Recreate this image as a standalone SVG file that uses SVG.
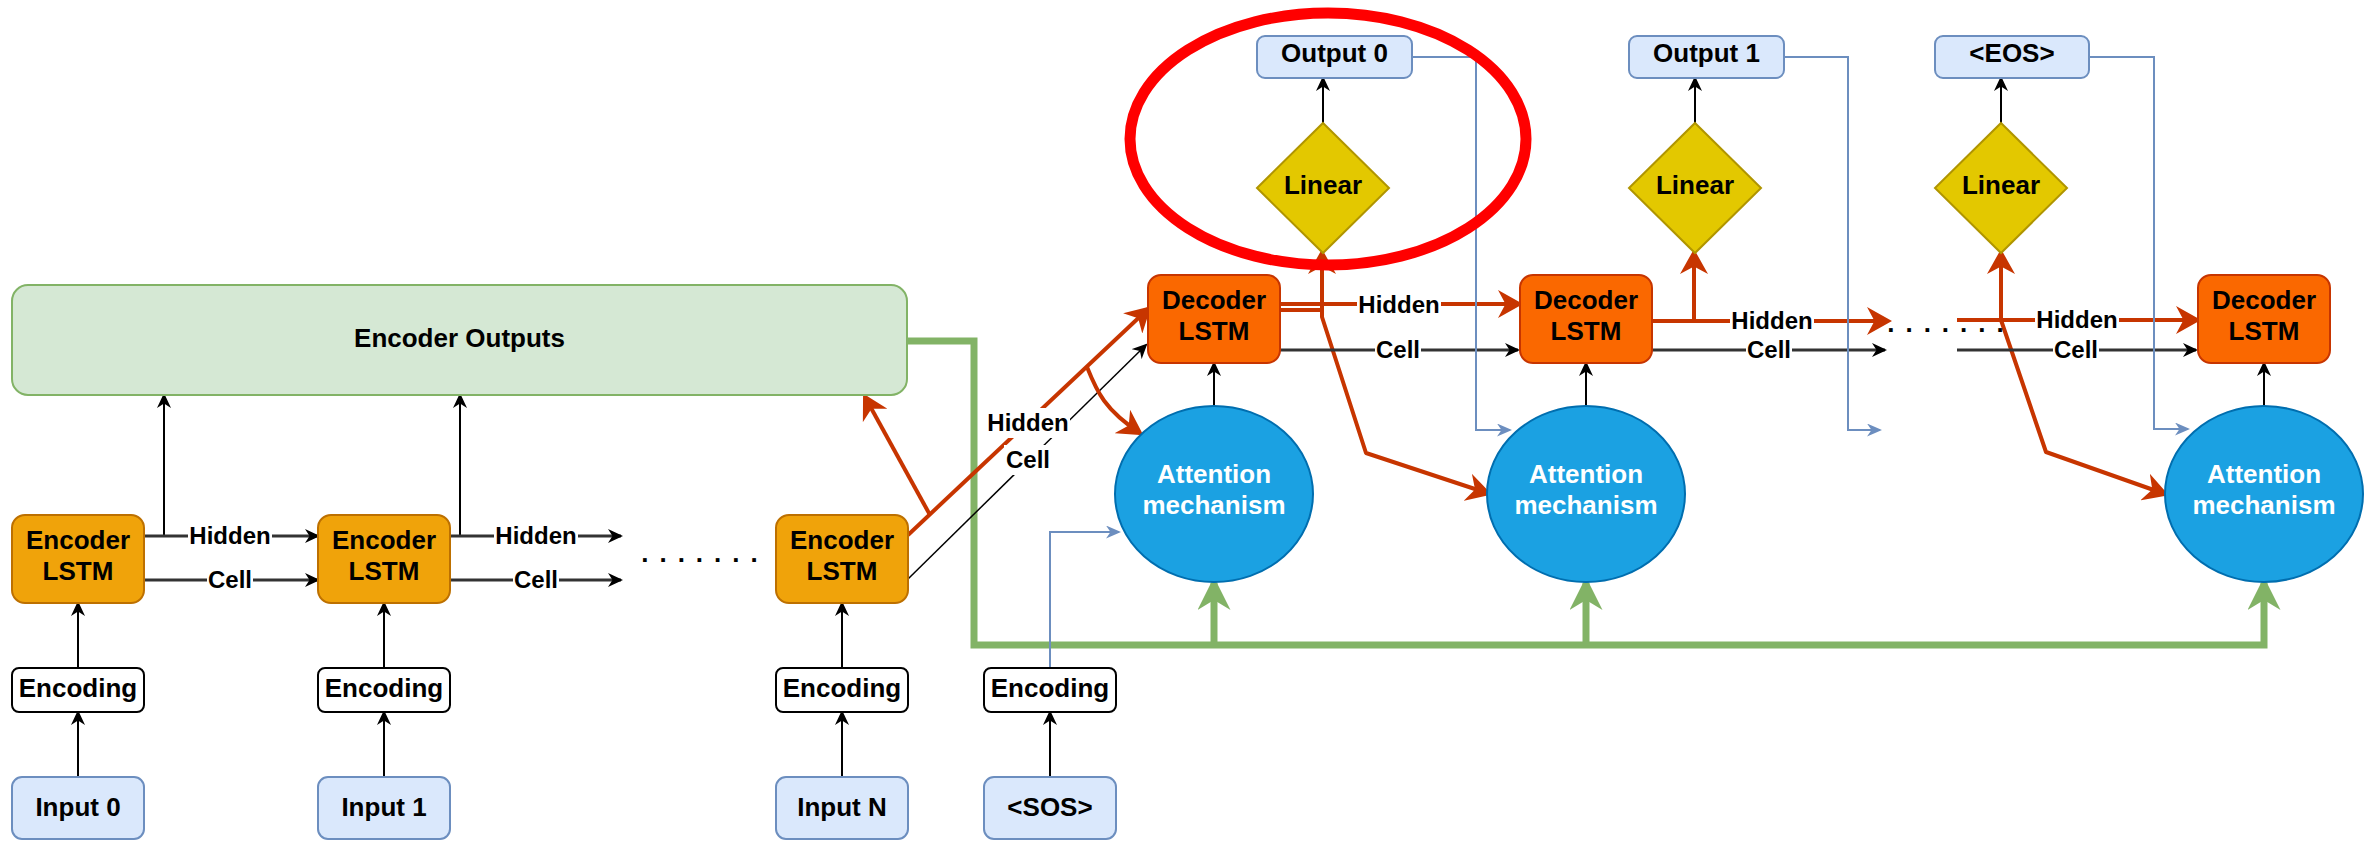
<svg xmlns="http://www.w3.org/2000/svg" width="2377" height="841" viewBox="0 0 2377 841">
<style>
text{font-family:"Liberation Sans",Arial,Helvetica,sans-serif;font-weight:bold;font-size:26px;text-anchor:middle;fill:#000}
.lbl{font-size:24px}
.wt{fill:#fff}
.enc{fill:#f0a30a;stroke:#BD7000;stroke-width:2}
.dec{fill:#fa6800;stroke:#C73500;stroke-width:2}
.att{fill:#1ba1e2;stroke:#006EAF;stroke-width:2}
.lin{fill:#e3c800;stroke:#B09500;stroke-width:2}
.io{fill:#dae8fc;stroke:#6c8ebf;stroke-width:2}
.emb{fill:#fff;stroke:#000;stroke-width:2}
.out{fill:#d5e8d4;stroke:#82b366;stroke-width:2}
.k{fill:none;stroke:#000;stroke-width:2;marker-end:url(#ak)}
.hc{fill:none;stroke:#333;stroke-width:3;marker-end:url(#ak)}
.r{fill:none;stroke:#C73500;stroke-width:4;stroke-linejoin:round;marker-end:url(#ar)}
.g{fill:none;stroke:#82b366;stroke-width:7;marker-end:url(#ag)}
.b{fill:none;stroke:#6c8ebf;stroke-width:2;marker-end:url(#ab)}
.bg{fill:#fff}
</style>
<defs>
<marker id="ak" markerUnits="userSpaceOnUse" viewBox="0 0 15 14" markerWidth="15" markerHeight="14" refX="13" refY="7" orient="auto"><path d="M0,0 L15,7 L0,14 L4.5,7 Z" fill="#000"/></marker>
<marker id="ar" markerUnits="userSpaceOnUse" viewBox="0 0 25 28" markerWidth="25" markerHeight="28" refX="21" refY="14" orient="auto"><path d="M0,0 L25,14 L0,28 L7.5,14 Z" fill="#C73500"/></marker>
<marker id="ag" markerUnits="userSpaceOnUse" viewBox="0 0 33 33" markerWidth="33" markerHeight="33" refX="27" refY="16.5" orient="auto"><path d="M0,0 L33,16.5 L0,33 L10,16.5 Z" fill="#82b366"/></marker>
<marker id="ab" markerUnits="userSpaceOnUse" viewBox="0 0 15 13" markerWidth="15" markerHeight="13" refX="13" refY="6.5" orient="auto"><path d="M0,0 L15,6.5 L0,13 L4.5,6.5 Z" fill="#6c8ebf"/></marker>
</defs>

<g id="connectors">
<!-- green encoder outputs bus -->
<path class="g" d="M907,341 H974 V645 H2264 V583"/>
<path class="g" d="M1214,645 V583"/>
<path class="g" d="M1586,645 V583"/>
<!-- input to encoding, encoding to encoder -->
<path class="k" d="M78,777 V712"/>
<path class="k" d="M78,668 V603"/>
<path class="k" d="M384,777 V712"/>
<path class="k" d="M384,668 V603"/>
<path class="k" d="M842,777 V712"/>
<path class="k" d="M842,668 V603"/>
<path class="k" d="M1050,777 V712"/>
<!-- encoder outputs -->
<path class="k" d="M164,536 V395"/>
<path class="k" d="M460,536 V395"/>
<!-- encoder hidden / cell -->
<path class="hc" d="M144,536 H318"/>
<path class="hc" d="M144,580 H318"/>
<path class="hc" d="M450,536 H621"/>
<path class="hc" d="M450,580 H621"/>
<!-- encoder N to decoder -->
<path class="k" style="stroke-width:1.5" d="M908,579 L1146,345"/>
<path class="r" d="M908,535 L1148,309"/>
<path class="r" d="M930,515 L865,397"/>
<path class="r" d="M1087,367 C1097,392 1105,410 1140,433"/>
<!-- decoder 0 -->
<path class="r" d="M1280,304 H1519"/>
<path class="r" style="marker-end:none" d="M1280,310 H1322 V317 L1366,453 L1487,493"/>
<path class="r" d="M1487,493 L1488,493.3"/>
<path class="r" d="M1322,317 V253"/>
<path class="hc" d="M1280,350 H1518"/>
<!-- decoder 1 -->
<path class="r" d="M1652,321 H1888"/>
<path class="r" d="M1694,321 V253"/>
<path class="hc" d="M1652,350 H1885"/>
<!-- to decoder 2 -->
<path class="r" d="M1957,320 H2197"/>
<path class="r" d="M2001,320 V253"/>
<path class="r" d="M2001,320 L2046,452 L2165,494"/>
<path class="hc" d="M1957,350 H2196"/>
<!-- attention to decoder -->
<path class="k" d="M1214,406 V363"/>
<path class="k" d="M1586,406 V363"/>
<path class="k" d="M2264,406 V363"/>
<!-- linear to outputs -->
<path class="k" d="M1323,123 V78"/>
<path class="k" d="M1695,123 V78"/>
<path class="k" d="M2001,123 V78"/>
<!-- blue feedback -->
<path class="b" d="M1412,57 H1476 V430 H1510"/>
<path class="b" d="M1782,57 H1848 V430 H1880"/>
<path class="b" d="M2089,57 H2154 V429 H2188"/>
<path class="b" d="M1050,668 V532 H1119"/>
<!-- labels -->
<rect class="bg" x="188" y="523" width="84" height="26"/><text class="lbl" x="230" y="544">Hidden</text>
<rect class="bg" x="207" y="567" width="46" height="26"/><text class="lbl" x="230" y="588">Cell</text>
<rect class="bg" x="494" y="523" width="84" height="26"/><text class="lbl" x="536" y="544">Hidden</text>
<rect class="bg" x="513" y="567" width="46" height="26"/><text class="lbl" x="536" y="588">Cell</text>
<rect class="bg" x="986" y="408" width="84" height="30"/><text class="lbl" x="1028" y="431">Hidden</text>
<rect class="bg" x="1004" y="445" width="48" height="30"/><text class="lbl" x="1028" y="468">Cell</text>
<rect class="bg" x="1357" y="292" width="84" height="26"/><text class="lbl" x="1399" y="313">Hidden</text>
<rect class="bg" x="1375" y="337" width="46" height="26"/><text class="lbl" x="1398" y="358">Cell</text>
<rect class="bg" x="1730" y="308" width="84" height="26"/><text class="lbl" x="1772" y="329">Hidden</text>
<rect class="bg" x="1746" y="337" width="46" height="26"/><text class="lbl" x="1769" y="358">Cell</text>
<rect class="bg" x="2035" y="307" width="84" height="26"/><text class="lbl" x="2077" y="328">Hidden</text>
<rect class="bg" x="2053" y="337" width="46" height="26"/><text class="lbl" x="2076" y="358">Cell</text>
</g>

<g id="encoder-outputs"><rect class="out" x="12" y="285" width="895" height="110" rx="16"/><text x="459.5" y="347">Encoder Outputs</text></g>

<g id="encoder-lstm-0"><rect class="enc" x="12" y="515" width="132" height="88" rx="13"/><text x="78" y="549">Encoder</text><text x="78" y="580">LSTM</text></g>
<g id="encoder-lstm-1"><rect class="enc" x="318" y="515" width="132" height="88" rx="13"/><text x="384" y="549">Encoder</text><text x="384" y="580">LSTM</text></g>
<g id="encoder-lstm-n"><rect class="enc" x="776" y="515" width="132" height="88" rx="13"/><text x="842" y="549">Encoder</text><text x="842" y="580">LSTM</text></g>

<g id="encoding-0"><rect class="emb" x="12" y="668" width="132" height="44" rx="7"/><text x="78" y="697">Encoding</text></g>
<g id="encoding-1"><rect class="emb" x="318" y="668" width="132" height="44" rx="7"/><text x="384" y="697">Encoding</text></g>
<g id="encoding-n"><rect class="emb" x="776" y="668" width="132" height="44" rx="7"/><text x="842" y="697">Encoding</text></g>
<g id="encoding-sos"><rect class="emb" x="984" y="668" width="132" height="44" rx="7"/><text x="1050" y="697">Encoding</text></g>

<g id="input-0"><rect class="io" x="12" y="777" width="132" height="62" rx="10"/><text x="78" y="816">Input 0</text></g>
<g id="input-1"><rect class="io" x="318" y="777" width="132" height="62" rx="10"/><text x="384" y="816">Input 1</text></g>
<g id="input-n"><rect class="io" x="776" y="777" width="132" height="62" rx="10"/><text x="842" y="816">Input N</text></g>
<g id="input-sos"><rect class="io" x="984" y="777" width="132" height="62" rx="10"/><text x="1050" y="816">&lt;SOS&gt;</text></g>

<g id="dots-encoder"><text x="705" y="562" style="letter-spacing:11px">.......</text></g>
<g id="dots-decoder"><text x="1951" y="332" style="letter-spacing:11px">.......</text></g>

<g id="decoder-lstm-0"><rect class="dec" x="1148" y="275" width="132" height="88" rx="13"/><text x="1214" y="309">Decoder</text><text x="1214" y="340">LSTM</text></g>
<g id="decoder-lstm-1"><rect class="dec" x="1520" y="275" width="132" height="88" rx="13"/><text x="1586" y="309">Decoder</text><text x="1586" y="340">LSTM</text></g>
<g id="decoder-lstm-2"><rect class="dec" x="2198" y="275" width="132" height="88" rx="13"/><text x="2264" y="309">Decoder</text><text x="2264" y="340">LSTM</text></g>

<g id="attention-0"><ellipse class="att" cx="1214" cy="494" rx="99" ry="88"/><text class="wt" x="1214" y="483">Attention</text><text class="wt" x="1214" y="514">mechanism</text></g>
<g id="attention-1"><ellipse class="att" cx="1586" cy="494" rx="99" ry="88"/><text class="wt" x="1586" y="483">Attention</text><text class="wt" x="1586" y="514">mechanism</text></g>
<g id="attention-2"><ellipse class="att" cx="2264" cy="494" rx="99" ry="88"/><text class="wt" x="2264" y="483">Attention</text><text class="wt" x="2264" y="514">mechanism</text></g>

<g id="linear-0"><polygon class="lin" points="1323,123 1389,188 1323,253 1257,188"/><text x="1323" y="194">Linear</text></g>
<g id="linear-1"><polygon class="lin" points="1695,123 1761,188 1695,253 1629,188"/><text x="1695" y="194">Linear</text></g>
<g id="linear-2"><polygon class="lin" points="2001,123 2067,188 2001,253 1935,188"/><text x="2001" y="194">Linear</text></g>

<g id="output-0"><rect class="io" x="1257" y="36" width="155" height="42" rx="8"/><text x="1334.5" y="62">Output 0</text></g>
<g id="output-1"><rect class="io" x="1629" y="36" width="155" height="42" rx="8"/><text x="1706.5" y="62">Output 1</text></g>
<g id="output-eos"><rect class="io" x="1935" y="36" width="154" height="42" rx="8"/><text x="2012" y="62">&lt;EOS&gt;</text></g>

<g id="highlight"><ellipse cx="1328" cy="139" rx="198" ry="126" fill="none" stroke="#ff0000" stroke-width="11"/></g>
</svg>
